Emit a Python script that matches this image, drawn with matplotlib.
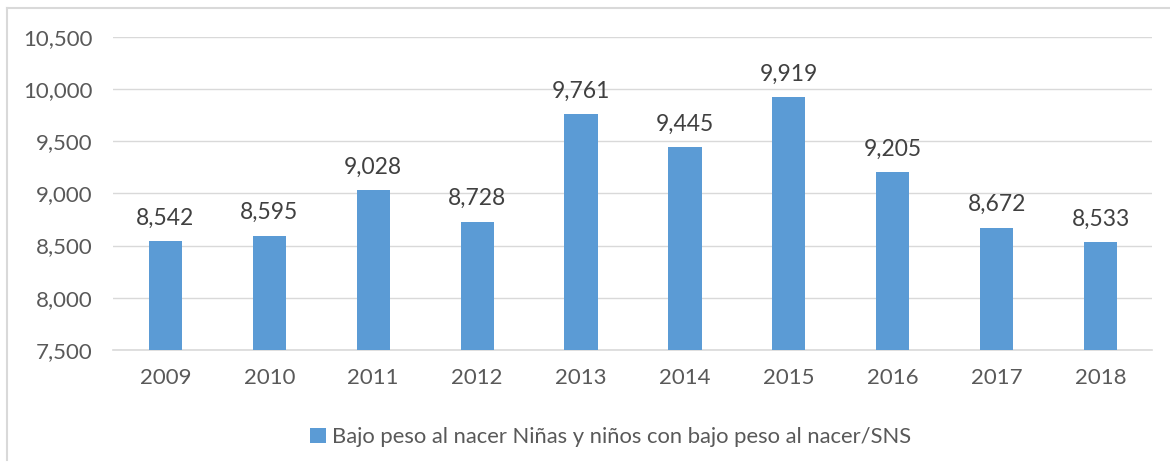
import matplotlib.pyplot as plt
from matplotlib.lines import Line2D
from matplotlib.ticker import FuncFormatter

years = ["2009", "2010", "2011", "2012", "2013", "2014", "2015", "2016", "2017", "2018"]
values = [8542, 8595, 9028, 8728, 9761, 9445, 9919, 9205, 8672, 8533]
yticks = [7500, 8000, 8500, 9000, 9500, 10000, 10500]
legend_label = "Bajo peso al nacer Niñas y niños con bajo peso al nacer/SNS"

bar_color = "#5B9BD5"
text_color = "#595959"
grid_color = "#D9D9D9"

plt.rcParams['font.family'] = ['Lato', 'DejaVu Sans']

fig = plt.figure(figsize=(11.7, 4.66), dpi=100)
ax = fig.add_axes([0.097, 0.249, 0.888, 0.672])

x = range(len(years))
bars = ax.bar(x, values, width=0.32, color=bar_color, label=legend_label, zorder=3)

for xi, v in zip(x, values):
    ax.annotate(f"{v:,}", (xi, v), xytext=(0, 9), textcoords="offset points",
                ha="center", va="bottom", fontsize=16.5, color="#404040")

ax.set_ylim(yticks[0], yticks[-1])
ax.set_xlim(-0.5, len(years) - 0.5)
ax.set_yticks(yticks)
ax.yaxis.set_major_formatter(FuncFormatter(lambda v, p: f"{int(v):,}"))
ax.set_xticks(list(x))
ax.set_xticklabels(years)
ax.tick_params(axis="both", length=0, labelsize=16, colors=text_color)
ax.tick_params(axis="y", pad=15)
ax.tick_params(axis="x", pad=13)
ax.grid(axis="y", color=grid_color, linewidth=1, zorder=0)
for s in ["top", "right", "left"]:
    ax.spines[s].set_visible(False)
ax.spines["bottom"].set_color(grid_color)
ax.spines["bottom"].set_linewidth(1.2)

fig.legend(handles=[bars], labels=[legend_label], loc="center", bbox_to_anchor=(0.522, 0.062),
           frameon=False, fontsize=15.8, labelcolor=text_color, handlelength=0.7,
           handleheight=0.7, handletextpad=0.3)

# chart border (left and top edges visible)
fig.add_artist(Line2D([0.006, 0.006], [0.012, 0.983], transform=fig.transFigure, color=grid_color, lw=1.5))
fig.add_artist(Line2D([0.006, 1.0], [0.983, 0.983], transform=fig.transFigure, color=grid_color, lw=1.5))

fig.savefig("out.png", dpi=100)
